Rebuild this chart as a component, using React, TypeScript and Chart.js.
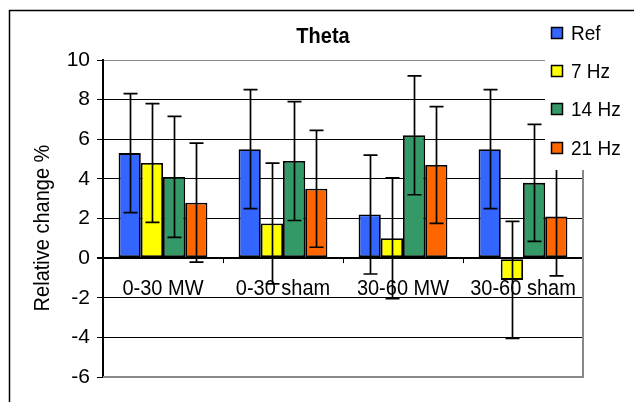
import React, { useEffect, useRef } from "react";
import { Chart, registerables } from "chart.js";

Chart.register(...registerables);

const categories = ["0-30 MW", "0-30 sham", "30-60 MW", "30-60 sham"];
const seriesNames = ["Ref", "7 Hz", "14 Hz", "21 Hz"];
const seriesColors = ["#3366FF", "#FFFF00", "#339966", "#FF6600"];

const refValues = [5.3, 5.5, 2.2, 5.5];
const hz7Values = [4.8, 1.75, 1.0, -1.1];
const hz14Values = [4.1, 4.9, 6.2, 3.8];
const hz21Values = [2.8, 3.5, 4.7, 2.1];

const refErrors = [3.0, 3.0, 3.0, 3.0];
const hz7Errors = [3.0, 3.05, 3.05, 2.95];
const hz14Errors = [3.05, 3.0, 3.0, 2.95];
const hz21Errors = [3.0, 2.95, 2.95, 3.0];

const yTicks = [-6, -4, -2, 0, 2, 4, 6, 8, 10];

const title = "Theta";
const yTitle = "Relative change %";

const FONT = "'Liberation Sans', Arial, sans-serif";

const allValues = [refValues, hz7Values, hz14Values, hz21Values];
const allErrors = [refErrors, hz7Errors, hz14Errors, hz21Errors];

function stretchedText(ctx: any, text: string, x: number, y: number, sy: number) {
  ctx.save();
  ctx.translate(x, y);
  ctx.scale(1, sy);
  ctx.fillText(text, 0, 0);
  ctx.restore();
}

const overlayPlugin = {
  id: "overlay",
  afterDatasetsDraw(chart: any) {
    const ctx = chart.ctx;
    const area = chart.chartArea;
    const yScale = chart.scales.y;
    const xScale = chart.scales.x;

    // error bars
    ctx.save();
    ctx.strokeStyle = "#000";
    ctx.lineWidth = 1.7;
    chart.data.datasets.forEach((ds: any, di: number) => {
      const meta = chart.getDatasetMeta(di);
      meta.data.forEach((bar: any, i: number) => {
        const v = allValues[di][i];
        const e = allErrors[di][i];
        const x = Math.round(bar.x) + 0.5;
        const yTop = yScale.getPixelForValue(v + e);
        const yBot = yScale.getPixelForValue(v - e);
        ctx.beginPath();
        ctx.moveTo(x, yTop);
        ctx.lineTo(x, yBot);
        ctx.moveTo(x - 7, yTop);
        ctx.lineTo(x + 7, yTop);
        ctx.moveTo(x - 7, yBot);
        ctx.lineTo(x + 7, yBot);
        ctx.stroke();
      });
    });
    ctx.restore();

    // category tick marks at zero line
    const y0 = yScale.getPixelForValue(0);
    const n = categories.length;
    const step = (area.right - area.left) / n;
    ctx.save();
    ctx.strokeStyle = "#000";
    ctx.lineWidth = 1;
    for (let i = 1; i <= n; i++) {
      const x = Math.round(area.left + i * step) + 0.5;
      ctx.beginPath();
      ctx.moveTo(x, y0);
      ctx.lineTo(x, y0 + 5);
      ctx.stroke();
    }
    ctx.restore();

    // category labels
    ctx.save();
    ctx.fillStyle = "#000";
    ctx.font = `20px ${FONT}`;
    ctx.textAlign = "center";
    ctx.textBaseline = "middle";
    categories.forEach((c, i) => {
      const x = xScale.getPixelForValue(i);
      stretchedText(ctx, c, x, y0 + 31, 1.08);
    });
    ctx.restore();

    // plot border (gray) right and bottom
    ctx.save();
    ctx.strokeStyle = "#888";
    ctx.lineWidth = 2;
    ctx.beginPath();
    ctx.moveTo(area.left, area.bottom);
    ctx.lineTo(area.right, area.bottom);
    ctx.lineTo(area.right, area.top);
    ctx.stroke();
    ctx.restore();

    // legend background
    ctx.save();
    ctx.fillStyle = "#fff";
    ctx.fillRect(545, 12, 100, 158);
    ctx.restore();

    // legend
    ctx.save();
    ctx.font = `19px ${FONT}`;
    ctx.textBaseline = "middle";
    ctx.textAlign = "left";
    const legendY = [33, 71, 109, 148];
    seriesNames.forEach((name, i) => {
      const cy = legendY[i];
      ctx.fillStyle = seriesColors[i];
      ctx.fillRect(551.5, cy - 5.5, 11, 11);
      ctx.strokeStyle = "#000";
      ctx.lineWidth = 1.5;
      ctx.strokeRect(551.5, cy - 5.5, 11, 11);
      ctx.fillStyle = "#000";
      stretchedText(ctx, name, 571, cy + 1, 1.08);
    });
    ctx.restore();

    // title
    ctx.save();
    ctx.fillStyle = "#000";
    ctx.font = `bold 20px ${FONT}`;
    ctx.textAlign = "center";
    ctx.textBaseline = "middle";
    stretchedText(ctx, title, 323, 37, 1.08);
    ctx.restore();

    // y title
    ctx.save();
    ctx.fillStyle = "#000";
    ctx.font = `20px ${FONT}`;
    ctx.textAlign = "center";
    ctx.textBaseline = "middle";
    ctx.translate(43, 228);
    ctx.rotate(-Math.PI / 2);
    ctx.scale(1, 1.08);
    ctx.fillText(yTitle, 0, 0);
    ctx.restore();

    // outer frame
    ctx.save();
    ctx.strokeStyle = "#000";
    ctx.lineWidth = 1.5;
    ctx.beginPath();
    ctx.moveTo(9.5, 420);
    ctx.lineTo(9.5, 10.5);
    ctx.lineTo(640, 10.5);
    ctx.stroke();
    ctx.restore();
  },
};

export default function App() {
  const ref = useRef<HTMLCanvasElement | null>(null);

  useEffect(() => {
    if (!ref.current) return;
    const chart = new Chart(ref.current, {
      type: "bar",
      data: {
        labels: categories,
        datasets: allValues.map((vals, i) => ({
          label: seriesNames[i],
          data: vals,
          backgroundColor: seriesColors[i],
          borderColor: "#000",
          borderWidth: 1.8,
          borderSkipped: false,
          categoryPercentage: 0.74,
          barPercentage: 1.0,
        })),
      },
      options: {
        animation: false,
        responsive: false,
        devicePixelRatio: 1,
        layout: { padding: { left: 0, top: 60, right: 51, bottom: 25 } },
        plugins: {
          legend: { display: false },
          title: { display: false },
          tooltip: { enabled: false },
        },
        scales: {
          x: {
            type: "category",
            display: false,
            offset: true,
          },
          y: {
            min: -6,
            max: 10,
            afterFit: (scale: any) => {
              scale.width = 103;
            },
            afterBuildTicks: (scale: any) => {
              scale.ticks = yTicks.map((v) => ({ value: v }));
            },
            ticks: {
              stepSize: 2,
              color: "#000",
              padding: 7,
              font: { family: FONT, size: 21 },
            },
            grid: {
              color: (c: any) =>
                c.tick && (c.tick.value === 10 || c.tick.value === -6) ? "#888" : "#000",
              lineWidth: (c: any) => (c.tick && c.tick.value === 0 ? 2 : 1),
              tickColor: "#000",
              tickLength: 6,
              drawTicks: true,
            },
            border: { color: "#000", width: 2 },
          },
        },
      },
      plugins: [overlayPlugin],
    });
    return () => chart.destroy();
  }, []);

  return (
    <div style={{ position: "fixed", left: 0, top: 0, width: 634, height: 402, background: "#fff" }}>
      <canvas ref={ref} width={634} height={402} style={{ width: 634, height: 402, display: "block" }} />
    </div>
  );
}
